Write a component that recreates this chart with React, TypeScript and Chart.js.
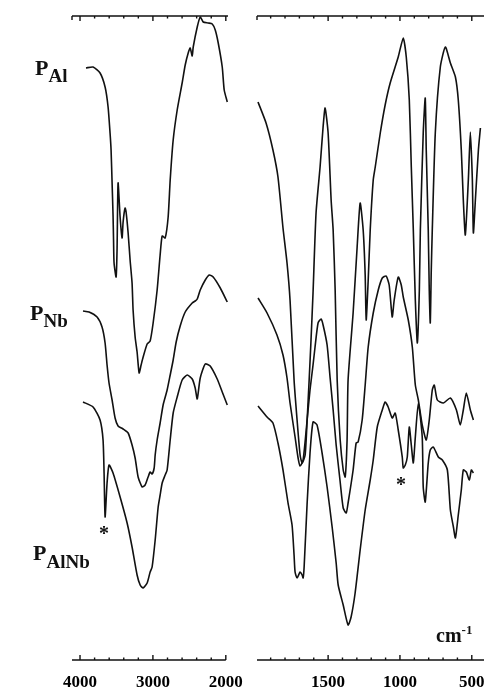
import React, { useEffect, useRef } from 'react';
import { Chart, registerables } from 'chart.js';
Chart.register(...registerables);

// ---------- data (wavenumber in cm-1, transmittance in arbitrary offset units) ----------
// Left panel (4000-2000 cm-1)
const alLeftWn = [3918,3821,3725,3656,3615,3588,3574,3560,3547,3540,3533,3505,3492,3478,3450,3423,3409,3382,3368,3340,3313,3286,3272,3244,3217,3189,3162,3134,3079,3038,2997,2942,2901,2873,2832,2791,2763,2722,2667,2599,2557,2516,2489,2461,2447,2392,2351,2310,2241,2186,2145,2104,2049,2022,1980];
const alLeftT = [592,593,587,573,553,527,510,477,445,420,397,383,410,477,443,422,438,452,448,427,400,377,350,323,308,287,295,303,316,319,337,370,405,424,422,443,480,520,550,577,595,607,612,604,613,633,643,638,637,636,630,617,593,570,558];

const nbLeftWn = [3959,3876,3766,3698,3656,3629,3602,3560,3519,3478,3409,3340,3286,3244,3203,3148,3107,3066,3038,3011,2983,2969,2942,2901,2860,2805,2763,2722,2681,2626,2557,2461,2420,2392,2351,2282,2227,2173,2076,1980];
const nbLeftT = [349,348,343,333,317,295,277,260,242,234,231,227,215,202,183,173,175,183,188,186,192,205,220,237,255,270,285,300,318,334,348,357,359,361,370,380,385,383,372,358];

const alnbLeftWn = [3959,3821,3725,3684,3670,3656,3629,3602,3547,3450,3354,3286,3217,3175,3134,3079,3038,3011,2969,2928,2901,2873,2832,2805,2763,2722,2667,2599,2530,2461,2420,2392,2351,2282,2214,2118,2049,1980];
const alnbLeftT = [258,253,240,220,187,143,177,195,187,163,137,113,85,75,72,77,88,93,120,153,165,177,185,190,220,247,263,280,285,281,272,261,282,296,294,281,268,255];

// Right panel (2000-400 cm-1)
const alRightWn = [1988,1932,1884,1849,1814,1786,1765,1737,1716,1695,1681,1660,1646,1632,1619,1605,1584,1556,1535,1521,1500,1479,1465,1451,1437,1416,1395,1381,1368,1361,1326,1298,1277,1256,1242,1235,1221,1207,1186,1172,1137,1103,1068,1012,977,956,935,921,907,893,879,865,858,838,824,817,803,796,789,782,775,754,719,684,649,614,594,573,559,545,524,510,496,489,475,454,440];
const alRightT = [558,537,510,483,432,397,360,280,240,205,197,205,240,280,320,367,447,493,533,552,527,460,430,370,280,220,190,183,220,280,347,413,457,430,385,340,380,430,480,493,527,555,577,603,622,603,560,493,430,360,317,370,430,527,562,510,430,370,337,390,430,527,593,613,597,583,560,510,460,425,480,528,480,427,460,510,532];

const nbRightWn = [1988,1925,1856,1814,1786,1765,1730,1709,1695,1674,1646,1626,1605,1591,1570,1549,1535,1507,1486,1465,1444,1416,1395,1374,1361,1326,1305,1291,1263,1242,1221,1186,1151,1123,1096,1075,1054,1040,1012,991,977,942,914,893,872,845,817,796,775,761,740,698,649,607,580,559,538,510,489];
const nbRightT = [362,347,325,305,282,257,223,202,194,200,240,270,295,313,337,341,335,315,282,250,215,178,152,147,157,190,217,218,240,275,313,347,370,382,384,375,343,360,383,375,363,340,313,275,260,235,220,240,270,275,260,257,262,250,235,250,267,250,240];

const alnbRightWn = [1988,1925,1884,1849,1814,1779,1751,1737,1730,1716,1695,1681,1674,1667,1646,1626,1605,1577,1542,1507,1472,1444,1430,1395,1361,1340,1312,1277,1242,1207,1186,1158,1123,1103,1082,1054,1033,1012,984,977,963,949,935,921,907,893,872,845,838,824,803,789,768,733,705,670,649,628,614,594,573,559,538,517,503,489];
const alnbRightT = [254,243,237,217,190,157,135,105,88,82,88,85,82,93,157,207,238,235,207,173,133,97,75,55,35,43,67,110,150,180,200,233,250,258,253,242,247,230,203,192,195,203,233,215,197,223,257,223,173,158,197,210,213,203,200,190,150,133,122,145,170,190,188,180,190,187];

// axis ticks
const leftTickLabels = [4000, 3000, 2000];
const leftMinorTicks = [4000, 3800, 3600, 3400, 3200, 3000, 2800, 2600, 2400, 2200, 2000];
const rightTickLabels = [1500, 1000, 500];
const rightMinorTicks = [1900, 1800, 1700, 1600, 1500, 1400, 1300, 1200, 1100, 1000, 900, 800, 700, 600, 500];

const FONT = '"Liberation Serif", "Times New Roman", serif';

const framePlugin = {
  id: 'frame',
  afterDatasetsDraw(chart: any, _args: any, opts: any) {
    const { ctx, chartArea } = chart;
    const { left, right, top, bottom } = chartArea;
    const x = chart.scales.x;
    ctx.save();
    ctx.strokeStyle = '#111';
    ctx.lineWidth = 1.4;
    ctx.beginPath();
    ctx.moveTo(left, top);
    ctx.lineTo(right, top);
    ctx.moveTo(left, bottom);
    ctx.lineTo(opts.bottomEnd ? x.getPixelForValue(opts.bottomEnd) : right, bottom);
    for (const v of opts.minor as number[]) {
      const px = x.getPixelForValue(v);
      const len = (opts.major as number[]).includes(v) ? 5 : 2.5;
      ctx.moveTo(px, bottom);
      ctx.lineTo(px, bottom - len);
      ctx.moveTo(px, top);
      ctx.lineTo(px, top + len);
    }
    ctx.moveTo(left, top);
    ctx.lineTo(left, top + 4);
    ctx.stroke();
    ctx.restore();
  },
};

type Series = { wn: number[]; t: number[] };

function Panel(props: {
  left: number; width: number; padLeft: number; padRight: number;
  min: number; max: number; labels: number[]; minor: number[]; series: Series[]; bottomEnd?: number;
}) {
  const ref = useRef<HTMLCanvasElement>(null);
  useEffect(() => {
    const p = props;
    const chart = new Chart(ref.current as HTMLCanvasElement, {
      type: 'scatter',
      data: {
        datasets: p.series.map((s) => ({
          data: s.wn.map((x, i) => ({ x, y: s.t[i] })),
          showLine: true,
          borderColor: '#111',
          borderWidth: 1.6,
          pointRadius: 0,
          tension: 0.2,
          fill: false,
        })),
      },
      options: {
        responsive: false,
        animation: false,
        events: [],
        layout: { padding: { left: p.padLeft, right: p.padRight, top: 16, bottom: 0 } },
        plugins: {
          legend: { display: false },
          tooltip: { enabled: false },
          // @ts-ignore
          frame: { minor: p.minor, major: p.labels, bottomEnd: p.bottomEnd },
        },
        scales: {
          x: {
            type: 'linear',
            min: p.min,
            max: p.max,
            reverse: true,
            grid: { display: false },
            border: { display: false },
            afterBuildTicks: (s: any) => { s.ticks = p.labels.map((v) => ({ value: v })); },
            afterFit: (s: any) => { s.height = 28; s.paddingLeft = 0; s.paddingRight = 0; },
            ticks: {
              color: '#000',
              font: { family: FONT, size: 17, weight: 'bold' },
              padding: 4,
              maxRotation: 0,
              autoSkip: false,
              callback: (v: any) => String(v),
            },
          },
          y: { display: false, min: 0, max: 644 },
        },
      } as any,
      plugins: [framePlugin],
    });
    return () => chart.destroy();
  }, []);
  return (
    <canvas ref={ref} width={props.width} height={688}
      style={{ position: 'absolute', left: props.left, top: 0 }} />
  );
}

function Txt(props: { x: number; base: number; size: number; children: React.ReactNode }) {
  return (
    <div style={{
      position: 'absolute', left: props.x, top: props.base - 0.8375 * props.size,
      fontFamily: FONT, fontWeight: 'bold', fontSize: props.size, lineHeight: 1,
      whiteSpace: 'nowrap', color: '#111',
    }}>{props.children}</div>
  );
}

const sub = (shift: number, size: number): React.CSSProperties => ({ position: 'relative', top: shift, fontSize: size });

export default function App() {
  return (
    <div style={{ position: 'absolute', left: 0, top: 0, width: 486, height: 688, background: '#fff', overflow: 'hidden' }}>
      <Panel left={0} width={243} padLeft={72} padRight={15} min={1970} max={4110}
        labels={leftTickLabels} minor={leftMinorTicks} bottomEnd={2000}
        series={[{ wn: alLeftWn, t: alLeftT }, { wn: nbLeftWn, t: nbLeftT }, { wn: alnbLeftWn, t: alnbLeftT }]} />
      <Panel left={243} width={243} padLeft={14} padRight={2} min={415} max={1995}
        labels={rightTickLabels} minor={rightMinorTicks}
        series={[{ wn: alRightWn, t: alRightT }, { wn: nbRightWn, t: nbRightT }, { wn: alnbRightWn, t: alnbRightT }]} />
      <Txt x={35} base={75} size={22}>P<span style={sub(7, 19)}>Al</span></Txt>
      <Txt x={30} base={320} size={22}>P<span style={sub(7, 19)}>Nb</span></Txt>
      <Txt x={33} base={560} size={22}>P<span style={sub(8, 19)}>AlNb</span></Txt>
      <Txt x={99} base={540} size={20}>*</Txt>
      <Txt x={396} base={491} size={20}>*</Txt>
      <Txt x={436} base={642} size={20}>cm<span style={sub(-8, 13)}>-1</span></Txt>
    </div>
  );
}
